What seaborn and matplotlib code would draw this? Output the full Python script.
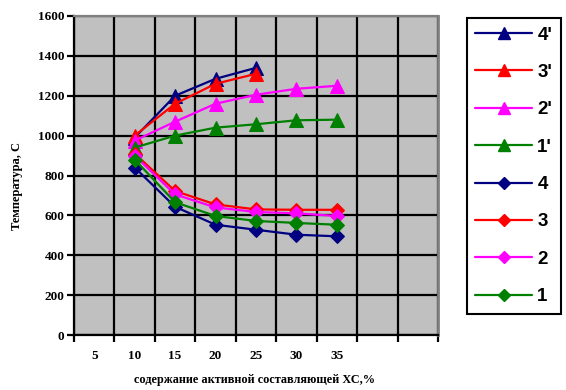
import matplotlib
matplotlib.use("Agg")
import matplotlib.pyplot as plt
import seaborn as sns
import pandas as pd
import numpy as np
from matplotlib.lines import Line2D
from matplotlib.ticker import FixedLocator, NullFormatter, FixedFormatter

# ---- data ----
categories = [5, 10, 15, 20, 25, 30, 35]
x_tri_short = [10, 15, 20, 25]
x_all = [10, 15, 20, 25, 30, 35]
s4p = [990, 1200, 1285, 1340]
s3p = [1000, 1160, 1260, 1310]
s2p = [975, 1070, 1160, 1205, 1235, 1250]
s1p = [940, 1000, 1040, 1057, 1077, 1080]
s4 = [840, 643, 553, 528, 503, 495]
s3 = [910, 722, 655, 630, 628, 628]
s2 = [900, 705, 640, 617, 610, 597]
s1 = [880, 666, 597, 572, 562, 553]
labels = ["4'", "3'", "2'", "1'", "4", "3", "2", "1"]
y_ticks = [0, 200, 400, 600, 800, 1000, 1200, 1400, 1600]

navy, red, mag, green = "#000080", "#FF0000", "#FF00FF", "#008000"
series = [
    ("4'", x_tri_short, s4p, navy, "^"),
    ("3'", x_tri_short, s3p, red, "^"),
    ("2'", x_all, s2p, mag, "^"),
    ("1'", x_all, s1p, green, "^"),
    ("4", x_all, s4, navy, "D"),
    ("3", x_all, s3, red, "D"),
    ("2", x_all, s2, mag, "D"),
    ("1", x_all, s1, green, "D"),
]

sns.set_style("ticks")
plt.rcParams["text.color"] = "black"
plt.rcParams["xtick.color"] = "black"
plt.rcParams["ytick.color"] = "black"
W, H = 566, 390
fig = plt.figure(figsize=(W / 100, H / 100), dpi=100)
ax = fig.add_axes([74 / W, 1 - 335 / H, (438 - 74) / W, (335 - 16) / H])
ax.set_facecolor("#C0C0C0")

handles = []
for name, xs, ys, col, mk in series:
    df = pd.DataFrame({"x": xs, "y": ys})
    ms = 10 if mk == "^" else 7.5
    sns.lineplot(data=df, x="x", y="y", ax=ax, color=col, lw=1.6,
                 marker=mk, markersize=ms, markeredgecolor=col,
                 markerfacecolor=col, legend=False, zorder=3)
    handles.append(Line2D([], [], color=col, lw=1.6, marker=mk,
                          markersize=ms * 0.85, markeredgecolor=col,
                          markerfacecolor=col))

ax.set_xlim(2.5, 47.5)
ax.set_ylim(0, 1600)
bounds = [2.5 + 5 * k for k in range(10)]
ax.xaxis.set_major_locator(FixedLocator(bounds))
ax.xaxis.set_major_formatter(NullFormatter())
ax.xaxis.set_minor_locator(FixedLocator(categories))
ax.xaxis.set_minor_formatter(FixedFormatter([str(c) for c in categories]))
ax.set_yticks(y_ticks)
ax.grid(True, which="major", color="black", lw=1.6, zorder=1)
ax.set_axisbelow(True)
ax.tick_params(axis="x", which="major", direction="out", length=5, width=1.6, color="black")
ax.tick_params(axis="x", which="minor", length=0, pad=11, labelcolor="black")
ax.tick_params(axis="y", which="major", direction="out", length=5, width=1.6, color="black",
               pad=2, labelcolor="black")
for lab in ax.get_xticklabels(minor=True) + ax.get_yticklabels():
    lab.set_fontfamily("Liberation Serif")
    lab.set_fontweight("bold")
    lab.set_fontsize(9.5)
ax.set_xlabel("")
ax.set_ylabel("")
ax.spines["left"].set_color("black")
ax.spines["left"].set_linewidth(1.6)
ax.spines["bottom"].set_color("black")
ax.spines["bottom"].set_linewidth(1.6)
ax.spines["top"].set_color("#808080")
ax.spines["top"].set_linewidth(1.6)
ax.spines["right"].set_color("#808080")
ax.spines["right"].set_linewidth(2)

fig.text(17 / W, 1 - 186 / H, "Температура, С", rotation=90, ha="center", va="center",
         family="Liberation Serif", weight="bold", fontsize=9, color="black")
fig.text(255 / W, 1 - 380 / H, "содержание активной составляющей ХС,%", ha="center", va="center",
         family="Liberation Serif", weight="bold", fontsize=8.8, color="black")

leg = fig.legend(handles, labels, loc="upper left", bbox_to_anchor=(467 / W, 1 - 18 / H),
                 frameon=True, fancybox=False, edgecolor="black", facecolor="white",
                 framealpha=1, handlelength=3.0, labelspacing=1.08, borderpad=0.45,
                 handletextpad=0.3, borderaxespad=0,
                 prop={"family": "Liberation Sans", "weight": "bold", "size": 13.5})
leg.get_frame().set_linewidth(1.5)
for t in leg.get_texts():
    t.set_color("black")

fig.savefig("out.png", dpi=100)
